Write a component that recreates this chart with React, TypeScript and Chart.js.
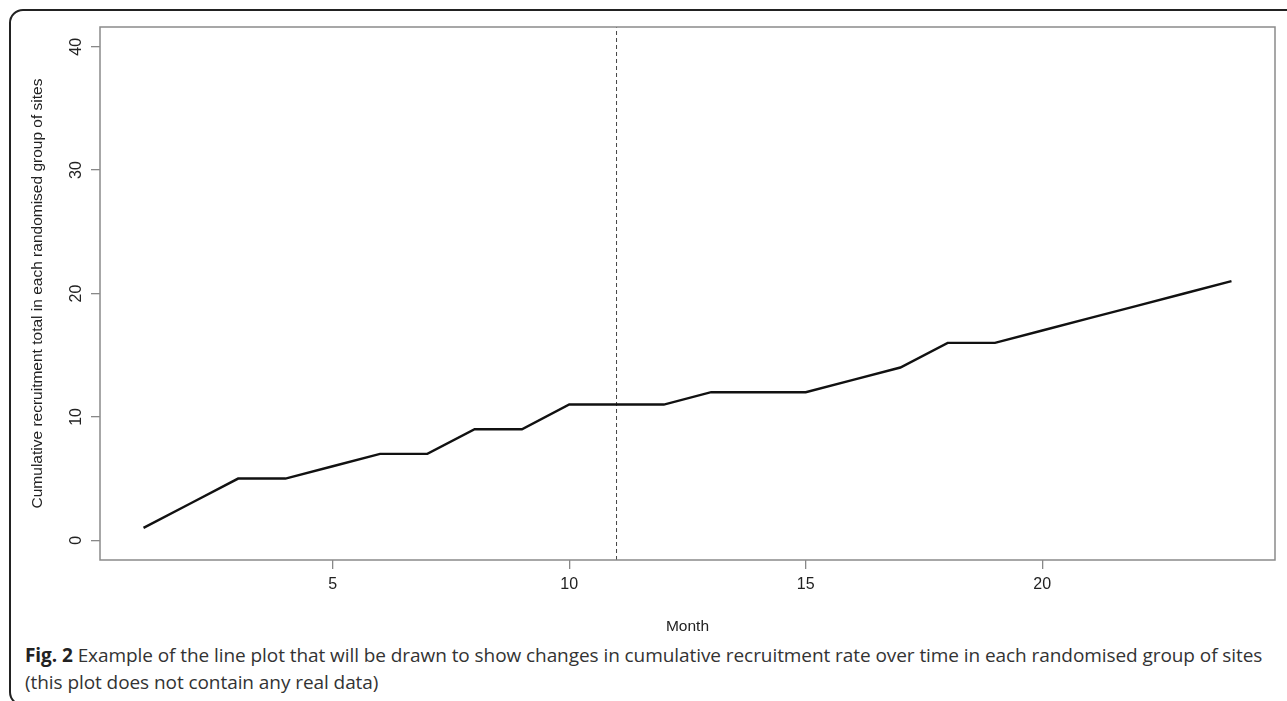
import React, { useEffect, useRef } from "react";
import { Chart, registerables } from "chart.js";

Chart.register(...registerables);

const months = [1, 2, 3, 4, 5, 6, 7, 8, 9, 10, 11, 12, 13, 14, 15, 16, 17, 18, 19, 20, 21, 22, 23, 24];
const cumulativeRecruitment = [1, 3, 5, 5, 6, 7, 7, 9, 9, 11, 11, 11, 12, 12, 12, 13, 14, 16, 16, 17, 18, 19, 20, 21];
const xTicks = [5, 10, 15, 20];
const yTicks = [0, 10, 20, 30, 40];
const cutoffMonth = 11;
const xTitle = "Month";
const yTitle = "Cumulative recruitment total in each randomised group of sites";

const FONT = "'Liberation Sans', Arial, sans-serif";

const boxPlugin = {
  id: "boxPlugin",
  afterDraw(chart: any) {
    const { ctx, chartArea } = chart;
    ctx.save();
    ctx.strokeStyle = "#8a8a8a";
    ctx.lineWidth = 1.5;
    ctx.strokeRect(chartArea.left, chartArea.top, chartArea.right - chartArea.left, chartArea.bottom - chartArea.top);
    ctx.restore();
  },
};

export default function App() {
  const ref = useRef<HTMLCanvasElement | null>(null);

  useEffect(() => {
    if (!ref.current) return;
    const chart = new Chart(ref.current, {
      type: "line",
      data: {
        datasets: [
          {
            data: months.map((m, i) => ({ x: m, y: cumulativeRecruitment[i] })),
            borderColor: "#111111",
            borderWidth: 2.4,
            pointRadius: 0,
            tension: 0,
            fill: false,
          },
          {
            data: [
              { x: cutoffMonth, y: -1.6 },
              { x: cutoffMonth, y: 41.6 },
            ],
            borderColor: "#444444",
            borderWidth: 1,
            borderDash: [4, 3],
            pointRadius: 0,
            fill: false,
          },
        ],
      },
      options: {
        animation: false,
        responsive: false,
        maintainAspectRatio: false,
        layout: { padding: { left: 28, right: 12, top: 27, bottom: 0 } },
        plugins: { legend: { display: false }, tooltip: { enabled: false } },
        scales: {
          x: {
            type: "linear",
            min: 0.08,
            max: 24.92,
            afterBuildTicks: (s: any) => {
              s.ticks = xTicks.map((v) => ({ value: v }));
            },
            afterFit: (s: any) => {
              s.height = 80;
            },
            ticks: {
              font: { family: FONT, size: 16 },
              color: "#222",
              padding: 6,
              maxRotation: 0,
              autoSkip: false,
            },
            grid: { drawOnChartArea: false, drawTicks: true, tickLength: 9, color: "#888", lineWidth: 1.3 },
            border: { display: false },
            title: {
              display: true,
              text: xTitle,
              font: { family: FONT, size: 15.5 },
              color: "#222",
              padding: { top: 0, bottom: 4 },
            },
          },
          y: {
            type: "linear",
            min: -1.6,
            max: 41.6,
            afterBuildTicks: (s: any) => {
              s.ticks = yTicks.map((v) => ({ value: v }));
            },
            afterFit: (s: any) => {
              s.width = 72;
            },
            ticks: {
              font: { family: FONT, size: 16 },
              color: "#222",
              padding: 6,
              minRotation: 90,
              maxRotation: 90,
              crossAlign: "center",
              autoSkip: false,
            },
            grid: { drawOnChartArea: false, drawTicks: true, tickLength: 9, color: "#888", lineWidth: 1.3 },
            border: { display: false },
            title: {
              display: true,
              text: yTitle,
              font: { family: FONT, size: 15.5 },
              color: "#222",
              padding: 0,
            },
          },
        },
      },
      plugins: [boxPlugin],
    });
    return () => chart.destroy();
  }, []);

  return (
    <div style={{ position: "fixed", left: 0, top: 0, width: 1287, height: 701, background: "#fff", overflow: "hidden" }}>
      <div
        style={{
          position: "absolute",
          left: 9,
          top: 9,
          width: 1300,
          height: 697,
          border: "2px solid #222",
          borderRadius: 14,
          boxSizing: "border-box",
        }}
      />
      <canvas ref={ref} width={1287} height={640} style={{ position: "absolute", left: 0, top: 0, width: 1287, height: 640 }} />
      <div
        style={{
          position: "absolute",
          left: 25,
          top: 642,
          fontFamily: "'Open Sans', sans-serif",
          fontSize: 19,
          letterSpacing: "-0.07px",
          lineHeight: "27px",
          color: "#333",
          whiteSpace: "nowrap",
        }}
      >
        <span style={{ fontWeight: 700, color: "#222" }}>Fig. 2</span> Example of the line plot that will be drawn to show changes in cumulative recruitment rate over time in each randomised group of sites
        <br />
        (this plot does not contain any real data)
      </div>
    </div>
  );
}
